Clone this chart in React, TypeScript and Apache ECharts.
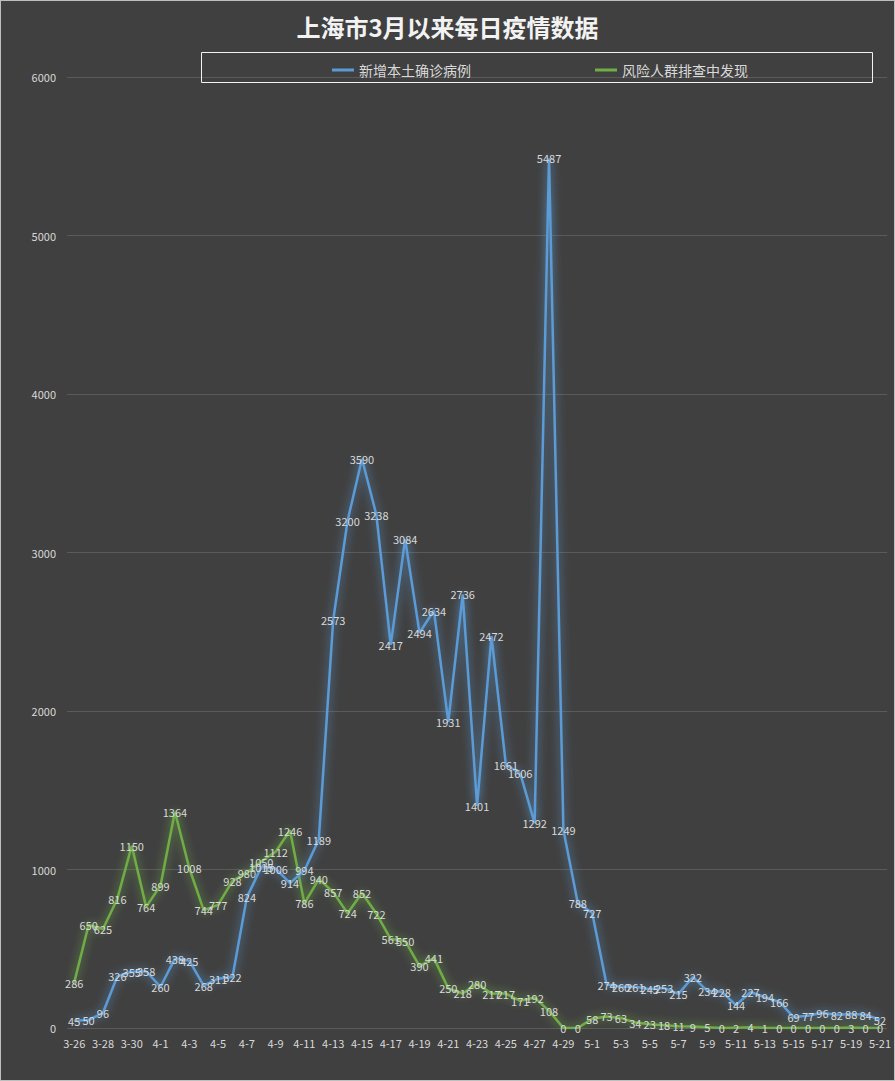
import React, { useEffect, useRef } from "react";
import * as echarts from "echarts";

const categories: string[] = [
  "3-26", "3-27", "3-28", "3-29", "3-30", "3-31",
  "4-1", "4-2", "4-3", "4-4", "4-5", "4-6", "4-7", "4-8", "4-9", "4-10",
  "4-11", "4-12", "4-13", "4-14", "4-15", "4-16", "4-17", "4-18", "4-19", "4-20",
  "4-21", "4-22", "4-23", "4-24", "4-25", "4-26", "4-27", "4-28", "4-29", "4-30",
  "5-1", "5-2", "5-3", "5-4", "5-5", "5-6", "5-7", "5-8", "5-9", "5-10",
  "5-11", "5-12", "5-13", "5-14", "5-15", "5-16", "5-17", "5-18", "5-19", "5-20", "5-21",
];

const localCases: number[] = [
  45, 50, 96, 326, 355, 358,
  260, 438, 425, 268, 311, 322, 824, 1015, 1006, 914,
  994, 1189, 2573, 3200, 3590, 3238, 2417, 3084, 2494, 2634,
  1931, 2736, 1401, 2472, 1661, 1606, 1292, 5487, 1249, 788,
  727, 274, 260, 261, 245, 253, 215, 322, 234, 228,
  144, 227, 194, 166, 69, 77, 96, 82, 88, 84, 52,
];

const riskGroup: number[] = [
  286, 650, 625, 816, 1150, 764,
  899, 1364, 1008, 744, 777, 928, 980, 1050, 1112, 1246,
  786, 940, 857, 724, 852, 722, 561, 550, 390, 441,
  250, 218, 280, 217, 217, 171, 192, 108, 0, 0,
  58, 73, 63, 34, 23, 18, 11, 9, 5, 0,
  2, 4, 1, 0, 0, 0, 0, 0, 3, 0, 0,
];

const seriesNames = ["新增本土确诊病例", "风险人群排查中发现"];
const titleText = "上海市3月以来每日疫情数据";

const FONT = "'Noto Sans CJK SC', 'Noto Sans', sans-serif";
const TEXT = "#d9d9d9";

export default function App() {
  const ref = useRef<HTMLDivElement>(null);
  useEffect(() => {
    document.body.style.margin = "0";
    if (!ref.current) return;
    const chart = echarts.init(ref.current, null, { renderer: "svg" });
    const mkSeries = (name: string, data: number[], color: string, glow: string, z: number) => ({
      name,
      type: "line",
      data,
      z,
      symbol: "circle",
      symbolSize: 1,
      itemStyle: { color: "rgba(0,0,0,0)" },
      lineStyle: { color, width: 2.5, shadowBlur: 10, shadowColor: glow },
      label: {
        show: true,
        position: "inside",
        color: TEXT,
        fontSize: 11,
        fontFamily: FONT,
      },
      emphasis: { disabled: true },
    });
    chart.setOption({
      animation: false,
      backgroundColor: "#404040",
      title: {
        text: titleText,
        left: "center",
        top: 8,
        textStyle: { color: "#f2f2f2", fontSize: 24, fontWeight: "bold", fontFamily: FONT },
      },
      graphic: [
        {
          type: "rect",
          shape: { x: 200.5, y: 51.5, width: 671, height: 30 },
          style: { fill: "none", stroke: "#f2f2f2", lineWidth: 1 },
          z: 10,
        },
      ],
      legend: {
        left: 326,
        top: 57,
        itemGap: 124,
        itemWidth: 22,
        itemHeight: 3,
        icon: "rect",
        textStyle: { color: TEXT, fontSize: 14, fontFamily: FONT },
        data: [
          { name: seriesNames[0], itemStyle: { color: "#5b9bd5" } },
          { name: seriesNames[1], itemStyle: { color: "#70ad47" } },
        ],
      },
      grid: { left: 66, right: 5, top: 76, bottom: 52 },
      xAxis: {
        type: "category",
        data: categories,
        boundaryGap: true,
        axisLine: { show: false },
        axisTick: { show: false },
        axisLabel: { interval: 1, color: TEXT, fontSize: 11, fontFamily: FONT, margin: 9 },
      },
      yAxis: {
        type: "value",
        min: 0,
        max: 6000,
        interval: 1000,
        axisLine: { show: false },
        axisTick: { show: false },
        axisLabel: {
          color: TEXT,
          fontSize: 11,
          fontFamily: FONT,
          margin: 11,
          formatter: (v: number) => String(v),
        },
        splitLine: { lineStyle: { color: "#5a5a5a", width: 1 } },
      },
      series: [
        mkSeries(seriesNames[0], localCases, "#5b9bd5", "rgba(91,155,213,0.95)", 3),
        mkSeries(seriesNames[1], riskGroup, "#70ad47", "rgba(112,173,71,0.95)", 2),
      ],
    });
    return () => chart.dispose();
  }, []);
  return (
    <div
      ref={ref}
      style={{ width: 895, height: 1081, boxSizing: "border-box", border: "1px solid #bfbfbf" }}
    />
  );
}
